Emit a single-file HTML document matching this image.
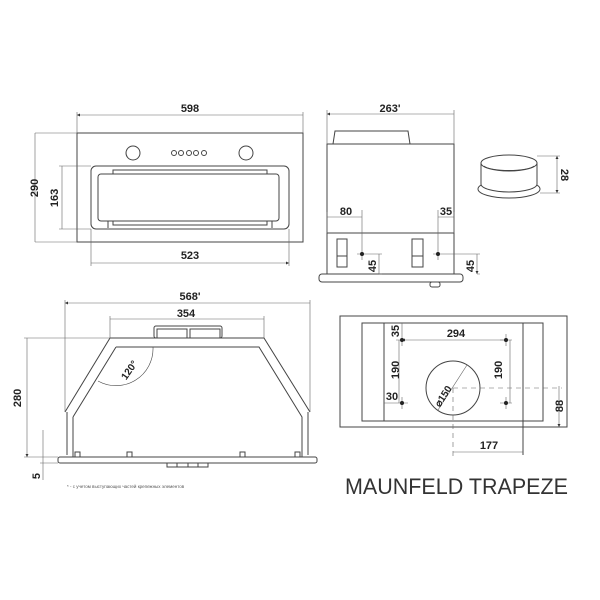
<!DOCTYPE html>
<html><head><meta charset="utf-8"><style>html,body{margin:0;padding:0;background:#fff}svg{display:block}</style></head><body>
<svg width="600" height="600" viewBox="0 0 600 600" xmlns="http://www.w3.org/2000/svg" font-family="Liberation Sans, sans-serif">
<defs><marker id="a" viewBox="0 0 6 6" refX="6" refY="3" markerWidth="5" markerHeight="5" orient="auto-start-reverse"><path d="M0,0L6,3L0,6z" fill="#333"/></marker></defs>
<g fill="none" stroke="#444" stroke-width="1">
<!-- front view -->
<rect x="77" y="133" width="226" height="109"/>
<circle cx="133" cy="153" r="7"/><circle cx="246" cy="153" r="7"/>
<circle cx="174" cy="153" r="2.5"/><circle cx="181" cy="153" r="2.5"/><circle cx="189" cy="153" r="2.5"/><circle cx="196" cy="153" r="2.5"/><circle cx="204" cy="153" r="2.5"/>
<rect x="91" y="166" width="198" height="63" rx="5"/>
<rect x="98" y="174" width="181" height="47" rx="3"/>
<path d="M113,174V170H267V174M108,221V228M272,221V228M113,221V225H267V221"/>
<g stroke="#666" stroke-width="0.6">
<path d="M77,112V133M303,112V133M35,133H77M35,242H77M59,166H91M59,229H91M91,229V266M289,229V266"/>
<path d="M77,115H303M35,133V242M62,166V229M91,263H289" marker-start="url(#a)" marker-end="url(#a)"/>
</g>
<!-- side view -->
<path d="M333,144L335,131H408L410,144"/>
<rect x="327" y="144" width="127" height="89"/>
<rect x="327" y="233" width="127" height="41"/>
<rect x="319" y="274" width="144" height="8" rx="3"/>
<rect x="430" y="282" width="10" height="5" rx="2"/>
<rect x="337" y="239" width="10" height="28"/><path d="M337,256H347"/>
<rect x="412" y="239" width="11" height="28"/><path d="M412,256H423"/>
<g stroke="#666" stroke-width="0.6">
<path d="M327,110V144M454,110V144M362,210V260M438,210V260M327,212V233M454,212V233M357,254H382M433,254H480M379,274H382M477,274H480"/>
<path d="M327,114H454M327,217H362M438,217H454M379,254V274M477,254V274" marker-start="url(#a)" marker-end="url(#a)"/>
<path d="M537,156H560M540,193H560"/>
<path d="M557,156V193" marker-start="url(#a)" marker-end="url(#a)"/>
</g>
<!-- ring -->
<ellipse cx="509" cy="189" rx="31" ry="9"/>
<path d="M481,163V184A28,8 0 0 0 537,184V163Z" fill="#fff"/>
<ellipse cx="509" cy="163" rx="28" ry="8" fill="#fff"/>
<path d="M484,166A26,6 0 0 0 534,166" stroke-width="0.6"/>
<!-- bottom front -->
<rect x="154" y="326" width="68" height="12" rx="2"/><rect x="157" y="329" width="30" height="9"/><rect x="190" y="329" width="30" height="9"/>
<path d="M65,412L110,338H264L310,412"/>
<path d="M73,417V457M116,347H259L302,417V457M116,347L73,417"/>
<path d="M67,412V455M308,412V455"/>
<rect x="58" y="457" width="259" height="6" rx="2"/>
<path d="M167,463V467H208V463M177,463V467M188,463V467M198,463V467"/>
<path d="M75,457V452H80V457M127,457V452H132V457M240,457V452H245V457M295,457V452H300V457"/>
<path d="M153,347A37,37 0 0 1 98,381" stroke-width="0.6"/>
<g stroke="#666" stroke-width="0.6">
<path d="M65,300V412M310,300V412M110,316V338M264,316V338M24,338H110M24,457H58M43,430V480M40,463H58"/>
<path d="M65,303H310M110,319H264M27,338V457" marker-start="url(#a)" marker-end="url(#a)"/>
</g>
<!-- bottom view -->
<rect x="340" y="316" width="227" height="111"/>
<rect x="362" y="323" width="181" height="98"/>
<path d="M384,323V421M523,323V455"/>
<circle cx="453" cy="388" r="27"/>
<g stroke="#666" stroke-width="0.6">
<path d="M453,388H562M453,388V460" stroke-dasharray="5,4"/>
<path d="M402,340H506M399,340V403M510,340V403M453,452H523M559,386V427" marker-start="url(#a)" marker-end="url(#a)"/>
<path d="M384,403H402M402,334V346M506,334V346M396,340H402M500,340H512M396,403H408M500,403H512M402,397V409M506,397V409M402,323V340M438,410L467,365"/>
</g>
</g>
<g fill="#222">
<circle cx="362" cy="254" r="2"/><circle cx="438" cy="254" r="2"/>
<circle cx="402" cy="340" r="2"/><circle cx="506" cy="340" r="2"/><circle cx="402" cy="403" r="2"/><circle cx="506" cy="403" r="2"/>
</g>
<g font-size="11" font-weight="bold" fill="#222" text-anchor="middle">
<text x="190" y="112">598</text>
<text x="190" y="259">523</text>
<text transform="translate(38,188) rotate(-90)">290</text>
<text transform="translate(58,198) rotate(-90)">163</text>
<text x="390" y="112">263'</text>
<text x="346" y="215">80</text>
<text x="446" y="215">35</text>
<text transform="translate(376,266) rotate(-90)">45</text>
<text transform="translate(474,266) rotate(-90)">45</text>
<text transform="translate(561,175) rotate(90)">28</text>
<text x="190" y="300">568'</text>
<text x="186" y="317">354</text>
<text transform="translate(21,398) rotate(-90)">280</text>
<text transform="translate(40,476) rotate(-90)">5</text>
<text transform="translate(132,372) rotate(-55)" font-size="10">120°</text>
<text x="456" y="337">294</text>
<text transform="translate(399,331) rotate(-90)">35</text>
<text transform="translate(399,370) rotate(-90)">190</text>
<text transform="translate(502,370) rotate(-90)">190</text>
<text x="392" y="400">30</text>
<text transform="translate(563,406) rotate(-90)">88</text>
<text x="489" y="449">177</text>
<text transform="translate(446,398) rotate(-57)" font-size="10">⌀150</text>
</g>
<text x="67" y="488" font-size="4.5" fill="#555">* - с учетом выступающих частей крепежных элементов</text>
<text x="345" y="494" font-size="22" fill="#333" textLength="223" lengthAdjust="spacingAndGlyphs">MAUNFELD TRAPEZE</text>
</svg>
</body></html>
